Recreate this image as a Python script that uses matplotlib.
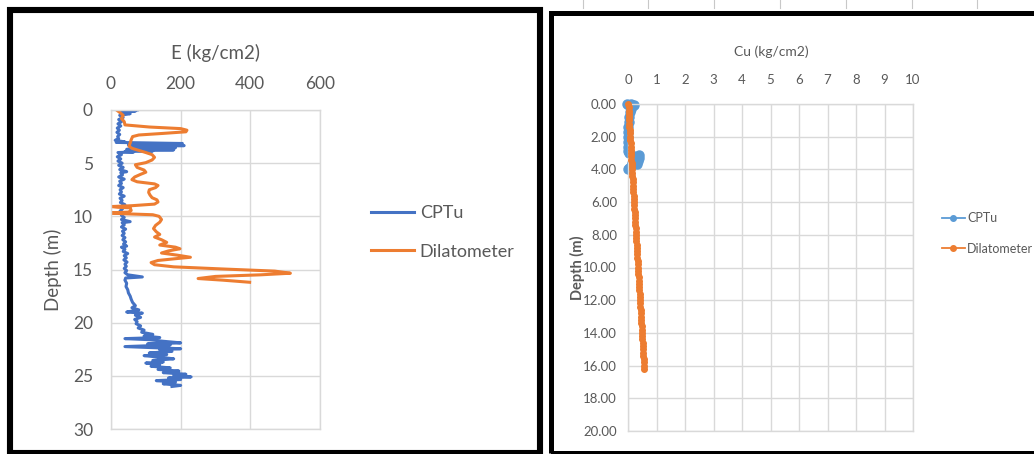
import matplotlib
matplotlib.use("Agg")
import matplotlib.pyplot as plt
from matplotlib.patches import Rectangle
from matplotlib.lines import Line2D

# Dados - grafico da esquerda (E x profundidade)
cptu_prof = [0.00, 0.05, 0.10, 0.20, 0.35, 0.50, 0.70, 0.90, 1.10, 1.30, 1.50, 1.70, 1.90, 2.10,
             2.30, 2.50, 2.70, 2.85, 3.00, 3.05, 3.15, 3.20, 3.25, 3.30, 3.35, 3.40, 3.45, 3.50,
             3.55, 3.60, 3.65, 3.70, 3.75, 3.80, 3.85, 3.90, 3.95, 4.00, 4.20, 4.40, 4.60, 4.80,
             5.00, 5.20, 5.40, 5.60, 5.80, 5.90, 6.10, 6.30, 6.50, 6.70, 6.90, 7.10, 7.30, 7.50,
             7.70, 7.90, 8.10, 8.30, 8.50, 8.70, 8.90, 9.10, 9.30, 9.50, 9.70, 9.90, 10.10, 10.30,
             10.50, 10.60, 10.80, 11.00, 11.20, 11.40, 11.60, 11.80, 12.00, 12.20, 12.40, 12.60,
             12.80, 12.90, 13.10, 13.30, 13.50, 13.70, 13.90, 14.10, 14.30, 14.50, 14.70, 14.90,
             15.10, 15.30, 15.50, 15.70, 15.80, 16.00, 16.30, 16.60, 16.90, 17.20, 17.50, 17.80,
             18.10, 18.40, 18.60, 18.80, 19.00, 19.10, 19.30, 19.50, 19.70, 19.90, 20.10, 20.30,
             20.50, 20.70, 20.90, 21.10, 21.25, 21.40, 21.50, 21.60, 21.75, 21.90, 22.00, 22.10,
             22.25, 22.35, 22.45, 22.55, 22.70, 22.85, 23.00, 23.10, 23.25, 23.40, 23.55, 23.70,
             23.80, 23.95, 24.10, 24.25, 24.40, 24.55, 24.70, 24.85, 25.00, 25.10, 25.20, 25.35,
             25.45, 25.60, 25.75, 25.90, 26.00]
cptu_e = [75, 40, 70, 30, 55, 25, 35, 22, 30, 20, 28, 18, 24, 17,
          25, 19, 22, 12, 40, 15, 205, 60, 190, 50, 210, 90, 175, 70,
          185, 55, 160, 45, 180, 60, 120, 40, 65, 20, 30, 18, 28, 20,
          32, 22, 35, 25, 45, 28, 33, 22, 38, 25, 30, 22, 35, 26,
          30, 24, 38, 26, 32, 27, 40, 28, 33, 26, 35, 30, 38, 30,
          55, 32, 38, 30, 42, 33, 38, 32, 40, 34, 42, 36,
          45, 30, 40, 35, 48, 38, 44, 37, 46, 40, 44, 38,
          45, 40, 48, 90, 42, 40, 45, 43, 48, 50, 55, 58,
          62, 70, 60, 80, 45, 90, 70, 85, 68, 75, 72, 85,
          78, 95, 88, 120, 95, 140, 40, 110, 150, 200, 105, 170,
          40, 120, 200, 140, 175, 110, 160, 95, 140, 180, 120, 150,
          100, 140, 115, 170, 135, 195, 150, 215, 180, 230, 165, 200,
          130, 185, 150, 200, 175]

dil_prof = [0.05, 0.30, 0.50, 0.80, 1.10, 1.40, 1.60, 1.75, 1.90, 2.05, 2.20, 2.35, 2.50, 2.80,
            3.10, 3.40, 3.60, 3.80, 4.00, 4.20, 4.45, 4.70, 4.95, 5.15, 5.40, 5.65, 5.85, 6.05,
            6.30, 6.55, 6.75, 6.95, 7.10, 7.30, 7.50, 7.75, 8.00, 8.25, 8.45, 8.65, 8.85, 9.00,
            9.08, 9.15, 9.20, 9.45, 9.60, 9.68, 9.75, 9.85, 10.00, 10.30, 10.55, 10.85, 11.15,
            11.45, 11.70, 11.95, 12.20, 12.45, 12.70, 12.90, 13.05, 13.25, 13.45, 13.65, 13.85,
            14.00, 14.15, 14.35, 14.55, 14.75, 14.95, 15.15, 15.35, 15.50, 15.65, 15.85, 16.00,
            16.20]
dil_e = [18, 28, 35, 30, 38, 40, 110, 200, 218, 215, 150, 80, 62, 58,
         55, 52, 60, 80, 100, 118, 125, 118, 100, 70, 75, 95, 100, 85,
         68, 60, 75, 125, 135, 128, 110, 108, 112, 118, 132, 135, 125, 60,
         0, 20, 55, 58, 50, 0, 30, 120, 138, 145, 140, 128, 122,
         130, 140, 125, 145, 160, 140, 185, 198, 165, 145, 190, 228,
         180, 135, 115, 125, 180, 320, 470, 515, 430, 300, 250, 320,
         398]

# Dados - grafico da direita (Cu x profundidade)
cu_cptu_prof = [0.00, 0.02, 0.05, 0.08, 0.10, 0.20, 0.30, 0.50, 0.80, 1.10, 1.40, 1.70, 2.00,
                2.30, 2.60, 2.90, 3.00, 3.10, 3.20, 3.30, 3.40, 3.50, 3.60, 3.70, 3.80, 3.90,
                4.00]
cu_cptu = [0.10, -0.05, 0.20, 0.02, 0.15, 0.08, 0.12, 0.06, 0.03, 0.02, 0.01, 0.00, 0.01,
           0.00, 0.01, -0.01, 0.05, 0.38, 0.20, 0.40, 0.25, 0.35, 0.15, 0.32, 0.10, 0.05,
           0.00]

cu_dil_prof = [0.0, 0.2, 0.4, 0.6, 0.8, 1.0, 1.2, 1.4, 1.6, 1.8, 2.0, 2.2, 2.4, 2.6, 2.8,
               3.0, 3.2, 3.4, 3.6, 3.8, 4.0, 4.2, 4.4, 4.6, 4.8, 5.0, 5.2, 5.4, 5.6, 5.8,
               6.0, 6.2, 6.4, 6.6, 6.8, 7.0, 7.2, 7.4, 7.6, 7.8, 8.0, 8.2, 8.4, 8.6, 8.8,
               9.0, 9.2, 9.4, 9.6, 9.8, 10.0, 10.2, 10.4, 10.6, 10.8, 11.0, 11.2, 11.4, 11.6,
               11.8, 12.0, 12.2, 12.4, 12.6, 12.8, 13.0, 13.2, 13.4, 13.6, 13.8, 14.0, 14.2,
               14.4, 14.6, 14.8, 15.0, 15.2, 15.4, 15.6, 15.8, 16.0, 16.2]
cu_dil = [0.01, 0.02, 0.02, 0.03, 0.03, 0.04, 0.05, 0.05, 0.06, 0.07, 0.07, 0.08, 0.09, 0.09,
          0.10, 0.11, 0.11, 0.12, 0.13, 0.13, 0.14, 0.15, 0.15, 0.16, 0.17, 0.18, 0.18, 0.19,
          0.20, 0.20, 0.21, 0.22, 0.22, 0.23, 0.24, 0.25, 0.25, 0.26, 0.27, 0.27, 0.28, 0.29,
          0.29, 0.30, 0.31, 0.32, 0.32, 0.33, 0.34, 0.34, 0.35, 0.36, 0.36, 0.37, 0.38, 0.39,
          0.39, 0.40, 0.41, 0.41, 0.42, 0.43, 0.43, 0.44, 0.45, 0.46, 0.46, 0.47, 0.48, 0.48,
          0.49, 0.50, 0.50, 0.51, 0.52, 0.53, 0.53, 0.54, 0.55, 0.55, 0.56, 0.57]

e_ticks = [0, 200, 400, 600]
prof_ticks_esq = [0, 5, 10, 15, 20, 25, 30]
cu_ticks = [0, 1, 2, 3, 4, 5, 6, 7, 8, 9, 10]
prof_ticks_dir = [0, 2, 4, 6, 8, 10, 12, 14, 16, 18, 20]

AZUL = '#4472C4'
AZUL2 = '#5B9BD5'
LARANJA = '#ED7D31'
CINZA = '#595959'
GRADE = '#D9D9D9'
FONTE_ESQ = ['Lato', 'DejaVu Sans']
FONTE_DIR = ['Lato', 'DejaVu Sans']

W, H = 1034, 454


def fx(x):
    return x / W


def fy(y):
    return 1 - y / H


def eixo(fig, x0, y0, x1, y1):
    """Cria um eixo a partir das coordenadas em pixels"""
    ax = fig.add_axes([fx(x0), fy(y1), fx(x1) - fx(x0), fy(y0) - fy(y1)])
    ax.xaxis.tick_top()
    ax.xaxis.set_label_position('top')
    ax.invert_yaxis()
    ax.grid(True, color=GRADE, lw=1.0)
    ax.set_axisbelow(True)
    for s in ax.spines.values():
        s.set_color(GRADE)
        s.set_linewidth(1.0)
    return ax


fig = plt.figure(figsize=(W / 100, H / 100), dpi=100)

# molduras pretas
fig.add_artist(Rectangle((fx(10), fy(453)), fx(539.5) - fx(10), fy(10) - fy(453),
                         transform=fig.transFigure, fill=False, ec='black', lw=4.4))
fig.add_artist(Rectangle((fx(550.5), fy(453)), fx(1045) - fx(550.5), fy(12.5) - fy(453),
                         transform=fig.transFigure, fill=False, ec='black', lw=3.6))
for xm in [583, 648, 714, 780, 846, 912, 977]:
    fig.add_artist(Line2D([fx(xm), fx(xm)], [fy(0), fy(8)], color='#C8C8C8', lw=0.8))

# grafico da esquerda
ax1 = eixo(fig, 111, 110, 320, 429)
ax1.plot(cptu_e, cptu_prof, color=AZUL, lw=2.2, label='CPTu')
ax1.plot(dil_e, dil_prof, color=LARANJA, lw=2.2, label='Dilatometer')
ax1.set_xlim(0, 600)
ax1.set_ylim(30, 0)
ax1.set_xticks(e_ticks)
ax1.set_yticks(prof_ticks_esq)
ax1.tick_params(length=0, labelsize=12.5, labelcolor=CINZA, pad=13)
for t in ax1.get_xticklabels() + ax1.get_yticklabels():
    t.set_family(FONTE_ESQ)
ax1.set_xlabel('E (kg/cm2)', fontsize=13.5, color=CINZA, family=FONTE_ESQ, va='center')
ax1.xaxis.set_label_coords(0.5, 1 + 57 / 319)
ax1.set_ylabel('Depth (m)', fontsize=13.5, color=CINZA, family=FONTE_ESQ, va='center')
ax1.yaxis.set_label_coords(-58 / 209, 0.5)
leg1 = ax1.legend(loc='center left', bbox_to_anchor=(260 / 209, 0.616), frameon=False,
                  borderpad=0, borderaxespad=0, handlelength=2.4, handletextpad=0.3,
                  labelspacing=1.25, prop={'family': FONTE_ESQ, 'size': 13})
for t in leg1.get_texts():
    t.set_color(CINZA)

# grafico da direita
ax2 = eixo(fig, 628, 104, 913, 431)
ax2.plot(cu_cptu, cu_cptu_prof, color=AZUL2, lw=2.2, marker='o', ms=6.5, label='CPTu',
         clip_on=False, zorder=2)
ax2.plot(cu_dil, cu_dil_prof, color=LARANJA, lw=2.2, marker='o', ms=4, label='Dilatometer',
         clip_on=False, zorder=3)
ax2.set_xlim(0, 10)
ax2.set_ylim(20, 0)
ax2.set_xticks(cu_ticks)
ax2.set_yticks(prof_ticks_dir)
ax2.set_yticklabels(['%.2f' % v for v in prof_ticks_dir])
ax2.tick_params(axis='x', length=0, labelsize=9.5, labelcolor=CINZA, pad=13)
ax2.tick_params(axis='y', length=0, labelsize=9.5, labelcolor=CINZA, pad=8)
for t in ax2.get_xticklabels() + ax2.get_yticklabels():
    t.set_family(FONTE_DIR)
ax2.set_xlabel('Cu (kg/cm2)', fontsize=10, color=CINZA, family=FONTE_DIR, va='center')
ax2.xaxis.set_label_coords(0.502, 1 + 52 / 327)
ax2.set_ylabel('Depth (m)', fontsize=10.5, color=CINZA, family=FONTE_DIR, va='center',
               fontweight='bold')
ax2.yaxis.set_label_coords(-51 / 285, 0.5)
leg2 = ax2.legend(loc='center left', bbox_to_anchor=(314 / 285, 0.604), frameon=False,
                  borderpad=0, borderaxespad=0, handlelength=1.8, handletextpad=0.2,
                  labelspacing=1.45, prop={'family': FONTE_DIR, 'size': 9})
for t in leg2.get_texts():
    t.set_color(CINZA)
for ln in leg2.get_lines():
    ln.set_linewidth(1.3)
    ln.set_markersize(4)

fig.savefig('out.png', dpi=100)
